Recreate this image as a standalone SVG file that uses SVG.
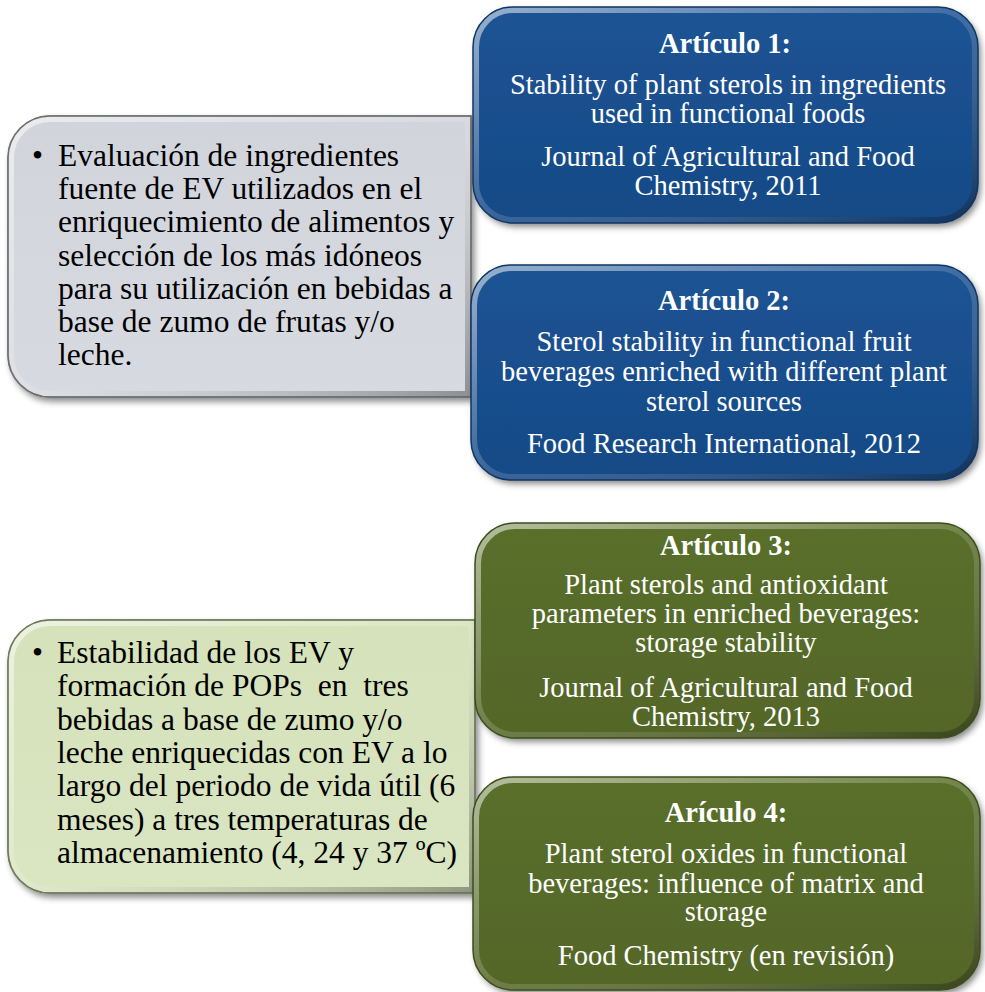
<svg xmlns="http://www.w3.org/2000/svg" width="985" height="992" viewBox="0 0 985 992">
<defs>
  <filter id="sh" x="-5%" y="-5%" width="112%" height="115%">
    <feDropShadow dx="3" dy="4" stdDeviation="3" flood-color="#000" flood-opacity="0.45"/>
  </filter>
  <linearGradient id="bevel" x1="0" y1="0" x2="1" y2="1">
    <stop offset="0" stop-color="#fff" stop-opacity="0.55"/>
    <stop offset="0.5" stop-color="#fff" stop-opacity="0.15"/>
    <stop offset="1" stop-color="#000" stop-opacity="0.35"/>
  </linearGradient>
  <linearGradient id="blueFill" x1="0" y1="0" x2="0" y2="1">
    <stop offset="0" stop-color="#1c5394"/>
    <stop offset="1" stop-color="#174a87"/>
  </linearGradient>
  <linearGradient id="greenFill" x1="0" y1="0" x2="0" y2="1">
    <stop offset="0" stop-color="#5a6f2c"/>
    <stop offset="1" stop-color="#536628"/>
  </linearGradient>
  <linearGradient id="grayFill" x1="0" y1="0" x2="0" y2="1">
    <stop offset="0" stop-color="#d2d4dc"/>
    <stop offset="1" stop-color="#d8dae1"/>
  </linearGradient>
  <linearGradient id="lgFill" x1="0" y1="0" x2="0" y2="1">
    <stop offset="0" stop-color="#d5e2ba"/>
    <stop offset="1" stop-color="#dae5c2"/>
  </linearGradient>
  <path id="leftShape1" d="M471,116 H50 A42,42 0 0 0 8,158 V355 A42,42 0 0 0 50,397 H471 Z"/>
  <path id="leftShape2" d="M475,620 H50 A42,42 0 0 0 8,662 V851 A42,42 0 0 0 50,893 H475 Z"/>
  <rect id="r1" x="473" y="7" width="505" height="216" rx="40"/>
  <rect id="r2" x="471" y="265" width="507" height="215" rx="40"/>
  <rect id="r3" x="475" y="523" width="505" height="215" rx="40"/>
  <rect id="r4" x="473" y="777" width="507" height="213" rx="40"/>
  <clipPath id="c1"><use href="#r1"/></clipPath>
  <clipPath id="c2"><use href="#r2"/></clipPath>
  <clipPath id="c3"><use href="#r3"/></clipPath>
  <clipPath id="c4"><use href="#r4"/></clipPath>
  <clipPath id="cl1"><use href="#leftShape1"/></clipPath>
  <clipPath id="cl2"><use href="#leftShape2"/></clipPath>
</defs>
<style>
  .ltxt { font-family: "Liberation Serif", "Times New Roman", serif; font-size: 31.5px; fill: #000; white-space: pre; }
  .rtxt { font-family: "Liberation Serif", "Times New Roman", serif; font-size: 28.5px; fill: #fff; text-anchor: middle; }
  .hdr { font-weight: bold; }
  .bev { fill: none; stroke: url(#bevel); stroke-width: 12; }
</style>
<rect width="985" height="992" fill="#fff"/>

<g id="node-left1">
  <use href="#leftShape1" fill="url(#grayFill)" stroke="#7a7a7a" stroke-width="1.5" filter="url(#sh)"/>
  <use href="#leftShape1" class="bev" clip-path="url(#cl1)"/>
  <use href="#leftShape1" fill="none" stroke="#6f6f6f" stroke-width="1.5"/>
  <text class="ltxt" x="32" y="166">•</text>
  <text class="ltxt" x="58" y="166">Evaluación de ingredientes</text>
  <text class="ltxt" x="58" y="199">fuente de EV utilizados en el</text>
  <text class="ltxt" x="58" y="232">enriquecimiento de alimentos y</text>
  <text class="ltxt" x="58" y="266">selección de los más idóneos</text>
  <text class="ltxt" x="58" y="299">para su utilización en bebidas a</text>
  <text class="ltxt" x="58" y="332">base de zumo de frutas y/o</text>
  <text class="ltxt" x="58" y="365">leche.</text>
</g>

<g id="node-left2">
  <use href="#leftShape2" fill="url(#lgFill)" stroke="#7d8a68" stroke-width="1.5" filter="url(#sh)"/>
  <use href="#leftShape2" class="bev" clip-path="url(#cl2)"/>
  <use href="#leftShape2" fill="none" stroke="#6f7a5c" stroke-width="1.5"/>
  <text class="ltxt" x="32" y="663">•</text>
  <text class="ltxt" x="57" y="663">Estabilidad de los EV y</text>
  <text class="ltxt" x="57" y="696">formación de POPs  en  tres</text>
  <text class="ltxt" x="57" y="730">bebidas a base de zumo y/o</text>
  <text class="ltxt" x="57" y="763">leche enriquecidas con EV a lo</text>
  <text class="ltxt" x="57" y="796">largo del periodo de vida útil (6</text>
  <text class="ltxt" x="57" y="830">meses) a tres temperaturas de</text>
  <text class="ltxt" x="57" y="863">almacenamiento (4, 24 y 37 ºC)</text>
</g>

<g id="node-art1">
  <use href="#r1" fill="url(#blueFill)" filter="url(#sh)"/>
  <use href="#r1" class="bev" clip-path="url(#c1)"/>
  <use href="#r1" fill="none" stroke="#0f3566" stroke-width="1.5"/>
  <text class="rtxt hdr" x="725" y="53">Artículo 1:</text>
  <text class="rtxt" x="728" y="94">Stability of plant sterols in ingredients</text>
  <text class="rtxt" x="728" y="123">used in functional foods</text>
  <text class="rtxt" x="728" y="166">Journal of Agricultural and Food</text>
  <text class="rtxt" x="728" y="195">Chemistry, 2011</text>
</g>

<g id="node-art2">
  <use href="#r2" fill="url(#blueFill)" filter="url(#sh)"/>
  <use href="#r2" class="bev" clip-path="url(#c2)"/>
  <use href="#r2" fill="none" stroke="#0f3566" stroke-width="1.5"/>
  <text class="rtxt hdr" x="724" y="310">Artículo 2:</text>
  <text class="rtxt" x="724" y="351">Sterol stability in functional fruit</text>
  <text class="rtxt" x="724" y="381">beverages enriched with different plant</text>
  <text class="rtxt" x="724" y="411">sterol sources</text>
  <text class="rtxt" x="724" y="453">Food Research International, 2012</text>
</g>

<g id="node-art3">
  <use href="#r3" fill="url(#greenFill)" filter="url(#sh)"/>
  <use href="#r3" class="bev" clip-path="url(#c3)"/>
  <use href="#r3" fill="none" stroke="#3d4d1a" stroke-width="1.5"/>
  <text class="rtxt hdr" x="726" y="555">Artículo 3:</text>
  <text class="rtxt" x="726" y="594">Plant sterols and antioxidant</text>
  <text class="rtxt" x="726" y="623">parameters in enriched beverages:</text>
  <text class="rtxt" x="726" y="652">storage stability</text>
  <text class="rtxt" x="726" y="697">Journal of Agricultural and Food</text>
  <text class="rtxt" x="726" y="726">Chemistry, 2013</text>
</g>

<g id="node-art4">
  <use href="#r4" fill="url(#greenFill)" filter="url(#sh)"/>
  <use href="#r4" class="bev" clip-path="url(#c4)"/>
  <use href="#r4" fill="none" stroke="#3d4d1a" stroke-width="1.5"/>
  <text class="rtxt hdr" x="726" y="822">Arículo 4:</text>
  <text class="rtxt" x="726" y="863">Plant sterol oxides in functional</text>
  <text class="rtxt" x="726" y="893">beverages: influence of matrix and</text>
  <text class="rtxt" x="726" y="921">storage</text>
  <text class="rtxt" x="726" y="965">Food Chemistry (en revisión)</text>
</g>

<g id="connectors"></g>
</svg>
